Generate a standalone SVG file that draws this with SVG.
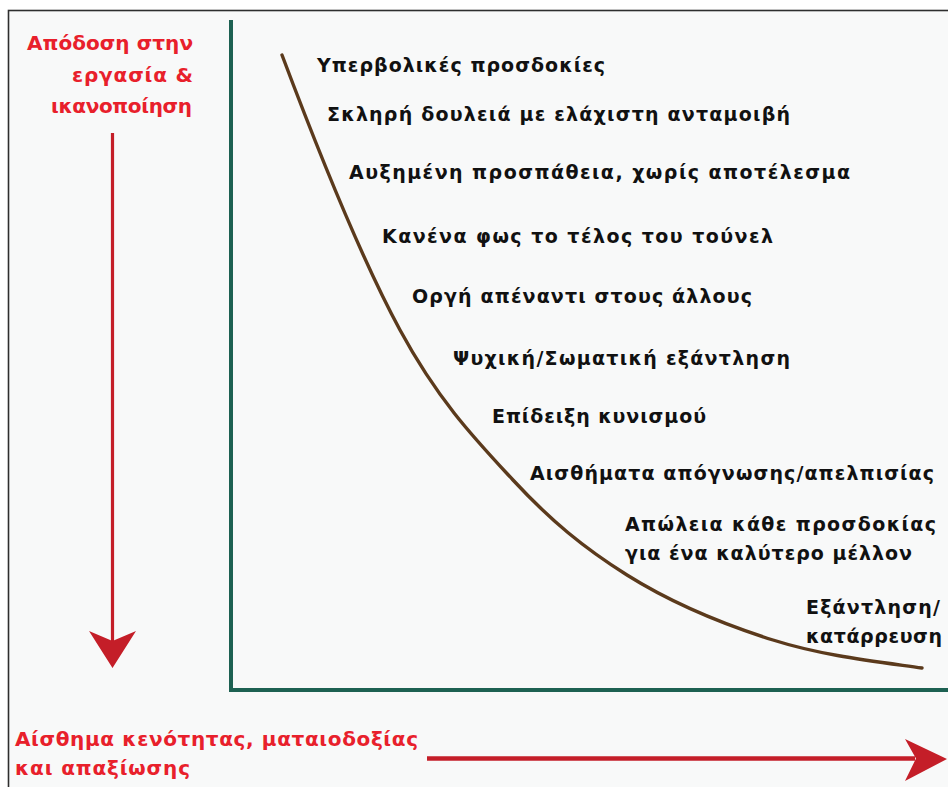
<svg xmlns="http://www.w3.org/2000/svg" width="948" height="787" viewBox="0 0 948 787">
  <style>
    .lbl { font-family: "DejaVu Sans", "Noto Sans", sans-serif; font-size: 19px; font-weight: bold; fill: #111111; }
    .red { font-family: "DejaVu Sans", "Noto Sans", sans-serif; font-size: 20px; font-weight: bold; fill: #e8202b; }
    .axis { stroke: #1d6152; stroke-width: 4; fill: none; }
    .curve { stroke: #5b3a1c; stroke-width: 3.4; fill: none; stroke-linecap: round; }
    .arrow { stroke: #c41e28; fill: none; }
    .head { fill: #c41e28; }
  </style>
  <rect x="0" y="0" width="948" height="787" fill="#ffffff"/>
  <rect x="8.5" y="10.5" width="960" height="800" fill="#f8f9f9" stroke="#2e2e2e" stroke-width="1.6"/>

  <g id="axes">
    <path class="axis" d="M231,20 V690 H948"/>
  </g>

  <g id="connectors">
    <path id="curve" class="curve" d="M282,55 C317,148 361.5,259 400,330 C438.5,401 475,439 513,480 C551,521 584,548 627,575 C670,602 724,624.5 773,640 C822,655.5 872,661 922,668"/>
    <g id="arrow-down">
      <line class="arrow" x1="112.5" y1="133" x2="112.5" y2="642" stroke-width="3.2"/>
      <polygon class="head" points="89,631 112.5,641 136,631 112.5,668"/>
    </g>
    <g id="arrow-right">
      <line class="arrow" x1="427" y1="758.5" x2="915" y2="758.5" stroke-width="4.5" stroke="#b01c24"/>
      <polygon class="head" fill="#b01c24" points="905,739 916,758.5 905,781 947,759"/>
    </g>
  </g>

  <g id="y-label">
    <text class="red" x="27" y="50" textLength="166" lengthAdjust="spacing">Απόδοση στην</text>
    <text class="red" x="72" y="82" textLength="121" lengthAdjust="spacing">εργασία &amp;</text>
    <text class="red" x="51" y="113" textLength="141" lengthAdjust="spacing">ικανοποίηση</text>
  </g>
  <g id="x-label">
    <text class="red" x="15" y="746" textLength="403" lengthAdjust="spacing">Αίσθημα κενότητας, ματαιοδοξίας</text>
    <text class="red" x="15" y="775" textLength="175" lengthAdjust="spacing">και απαξίωσης</text>
  </g>

  <g id="stage1"><text class="lbl" x="317" y="72" textLength="288" lengthAdjust="spacing">Υπερβολικές προσδοκίες</text></g>
  <g id="stage2"><text class="lbl" x="327" y="121" textLength="463" lengthAdjust="spacing">Σκληρή δουλειά με ελάχιστη ανταμοιβή</text></g>
  <g id="stage3"><text class="lbl" x="349" y="179" textLength="501" lengthAdjust="spacing">Αυξημένη προσπάθεια, χωρίς αποτέλεσμα</text></g>
  <g id="stage4"><text class="lbl" x="382" y="243" textLength="391" lengthAdjust="spacing">Κανένα φως το τέλος του τούνελ</text></g>
  <g id="stage5"><text class="lbl" x="412" y="303" textLength="340" lengthAdjust="spacing">Οργή απέναντι στους άλλους</text></g>
  <g id="stage6"><text class="lbl" x="453" y="365" textLength="337" lengthAdjust="spacing">Ψυχική/Σωματική εξάντληση</text></g>
  <g id="stage7"><text class="lbl" x="492" y="423" textLength="214" lengthAdjust="spacing">Επίδειξη κυνισμού</text></g>
  <g id="stage8"><text class="lbl" x="530" y="480" textLength="404" lengthAdjust="spacing">Αισθήματα απόγνωσης/απελπισίας</text></g>
  <g id="stage9">
    <text class="lbl" x="625" y="531" textLength="311" lengthAdjust="spacing">Απώλεια κάθε προσδοκίας</text>
    <text class="lbl" x="625" y="560" textLength="287" lengthAdjust="spacing">για ένα καλύτερο μέλλον</text>
  </g>
  <g id="stage10">
    <text class="lbl" x="806" y="614" textLength="134" lengthAdjust="spacing">Εξάντληση/</text>
    <text class="lbl" x="806" y="643" textLength="136" lengthAdjust="spacing">κατάρρευση</text>
  </g>
</svg>
